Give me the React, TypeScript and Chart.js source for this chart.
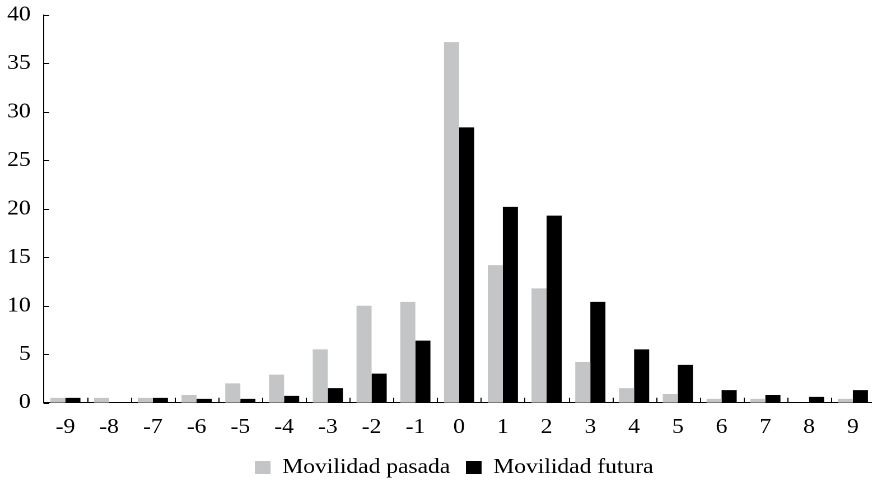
import React, { useEffect, useRef } from "react";
import { Chart, registerables } from "chart.js";

Chart.register(...registerables);

const categories = ["-9", "-8", "-7", "-6", "-5", "-4", "-3", "-2", "-1", "0", "1", "2", "3", "4", "5", "6", "7", "8", "9"];
const movilidadPasada = [0.5, 0.5, 0.5, 0.8, 2.0, 2.9, 5.5, 10.0, 10.4, 37.2, 14.2, 11.8, 4.2, 1.5, 0.9, 0.4, 0.4, 0, 0.4];
const movilidadFutura = [0.5, 0, 0.5, 0.4, 0.4, 0.7, 1.5, 3.0, 6.4, 28.4, 20.2, 19.3, 10.4, 5.5, 3.9, 1.3, 0.8, 0.6, 1.3];
const seriesLabels = ["Movilidad pasada", "Movilidad futura"];

const STRETCH = 1.12;
const LOGICAL_W = 782;
const H = 481;
const FONT = "'Liberation Serif'";

const innerTicks = {
  id: "innerTicks",
  afterDatasetsDraw(chart: any) {
    const { ctx, chartArea, scales } = chart;
    const x = scales.x;
    const y = scales.y;
    ctx.save();
    ctx.strokeStyle = "#000";
    ctx.lineWidth = 1;
    ctx.beginPath();
    y.ticks.forEach((t: any) => {
      const py = Math.round(y.getPixelForValue(t.value)) + 0.5;
      ctx.moveTo(chartArea.left, py);
      ctx.lineTo(chartArea.left + 5, py);
    });
    for (let i = 0; i < categories.length - 1; i++) {
      const px = Math.round((x.getPixelForValue(i) + x.getPixelForValue(i + 1)) / 2) + 0.5;
      ctx.moveTo(px, chartArea.bottom);
      ctx.lineTo(px, chartArea.bottom - 5);
    }
    ctx.stroke();
    ctx.restore();
  },
};

const legendShift = {
  id: "legendShift",
  afterLayout(chart: any) {
    const lg = chart.legend;
    if (!lg) return;
    lg.left += 15;
    lg.right += 15;
  },
};

export default function App() {
  const ref = useRef<HTMLCanvasElement | null>(null);
  useEffect(() => {
    let chart: any = null;
    let cancelled = false;
    const build = () => {
      if (cancelled || !ref.current) return;
      chart = new Chart(ref.current, {
        type: "bar",
        data: {
          labels: categories,
          datasets: [
            { label: seriesLabels[0], data: movilidadPasada, backgroundColor: "#c4c5c7", borderWidth: 0 },
            { label: seriesLabels[1], data: movilidadFutura, backgroundColor: "#000000", borderWidth: 0 },
          ],
        },
        options: {
          animation: false,
          responsive: false,
          devicePixelRatio: 2,
          layout: { padding: { left: 0, right: 1, top: 0, bottom: -7 } },
          datasets: { bar: { categoryPercentage: 0.69, barPercentage: 1.0 } },
          scales: {
            x: {
              grid: { display: false, drawTicks: false },
              border: { display: true, color: "#000", width: 1 },
              ticks: { color: "#000", font: { family: FONT, size: 21 }, padding: 12, maxRotation: 0, autoSkip: false },
              afterFit: (s: any) => {
                s.height = 40.3;
              },
            },
            y: {
              min: 0,
              max: 40,
              grid: { display: false, drawTicks: false },
              border: { display: true, color: "#000", width: 1 },
              ticks: { stepSize: 5, color: "#000", font: { family: FONT, size: 21 }, padding: 11.4 },
              afterFit: (s: any) => {
                s.width = 38.8;
                s.paddingTop = 15;
                s.paddingBottom = 0;
              },
            },
          },
          plugins: {
            legend: {
              position: "bottom",
              labels: {
                color: "#000",
                font: { family: FONT, size: 21 },
                boxWidth: 14,
                boxHeight: 13,
                padding: 14,
              },
            },
            tooltip: { enabled: false },
          },
        },
        plugins: [innerTicks, legendShift],
      });
    };
    const fonts = (document as any).fonts;
    if (fonts && fonts.load) {
      Promise.all([fonts.load("21px 'Liberation Serif'")])
        .catch(() => null)
        .then(build);
    } else {
      build();
    }
    return () => {
      cancelled = true;
      if (chart) chart.destroy();
    };
  }, []);
  return (
    <div style={{ position: "fixed", left: 0, top: 0, width: 872, height: H, overflow: "hidden", background: "#fff" }}>
      <div style={{ width: LOGICAL_W, height: H, transform: `scaleX(${STRETCH})`, transformOrigin: "0 0" }}>
        <canvas ref={ref} width={LOGICAL_W} height={H} style={{ display: "block" }} />
      </div>
    </div>
  );
}
